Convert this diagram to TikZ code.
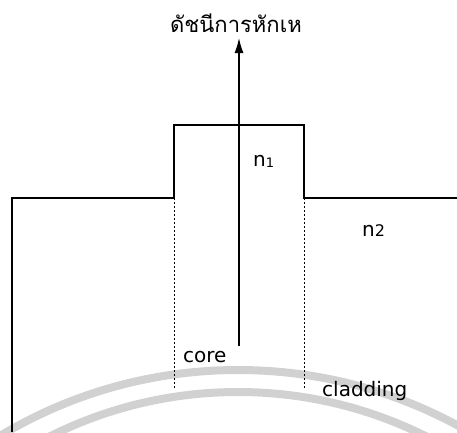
\documentclass[tikz,border=0pt]{standalone}
\usepackage{fontspec}
\setmainfont{DejaVu Sans}
\newfontfamily\thaifont[Script=Thai]{Loma}
\usetikzlibrary{arrows.meta}
\tikzset{
  profile/.style={line width=1.8pt, line join=miter},
  axisline/.style={line width=1.3pt, -{Latex[length=15pt,width=9pt]}},
  boundary/.style={line width=0.9pt, dash pattern=on 2pt off 2pt},
  band/.style={line width=8pt, color=black!18},
  lbl/.style={anchor=base west, inner sep=0pt, font=\fontsize{20}{20}\selectfont},
}
\begin{document}
\begin{tikzpicture}[x=1pt,y=-1pt]
  \useasboundingbox (0,0) rectangle (457,432);
  % faint circular bands near the bottom
  \begin{scope}
    \clip (0,0) rectangle (457,432);
    \draw[band] (238,832) circle[radius=462];
    \draw[band] (238,812) circle[radius=420];
  \end{scope}
  % step index profile
  \coordinate (p0) at (12,432);
  \coordinate (p1) at (12,198);
  \coordinate (p2) at (174,198);
  \coordinate (p3) at (174,125);
  \coordinate (p4) at (304,125);
  \coordinate (p5) at (304,198);
  \coordinate (p6) at (457,198);
  \draw[profile] (p0) -- (p1) -- (p2) -- (p3) -- (p4) -- (p5) -- (p6);
  % core / cladding boundaries
  \coordinate (b1) at (174,388);
  \coordinate (b2) at (304,388);
  \draw[boundary] (p2) -- (b1);
  \draw[boundary] (p5) -- (b2);
  % refractive index axis
  \coordinate (a0) at (239,346);
  \coordinate (a1) at (239,38);
  \draw[axisline] (a0) -- (a1);
  % labels
  \node[anchor=base west, inner sep=0pt, font=\thaifont\fontsize{22}{22}\selectfont] (title) at (170,32) {ดัชนีการหักเห};
  \node[lbl] (n1) at (253,166) {n\raisebox{-1pt}{\fontsize{13}{13}\selectfont 1}};
  \node[lbl] (n2) at (362,236) {n{\fontsize{16}{16}\selectfont 2}};
  \node[lbl] (core) at (183,362) {core};
  \node[lbl] (clad) at (322,396) {cladding};
\end{tikzpicture}
\end{document}
